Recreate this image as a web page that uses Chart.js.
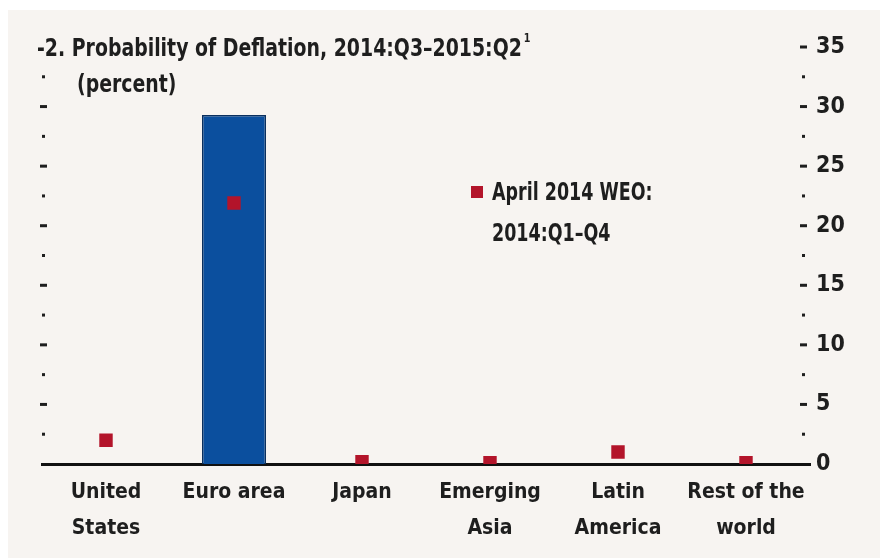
<!DOCTYPE html>
<html>
<head>
<meta charset="utf-8">
<script src="https://cdn.jsdelivr.net/npm/chart.js@4.4.1/dist/chart.umd.min.js"></script>
<style>
  html, body { margin: 0; padding: 0; background: #ffffff; }
  #wrap { position: absolute; left: 8px; top: 10px; width: 872px; height: 548px; background: #f7f4f1; }
  canvas { position: absolute; left: -8px; top: -10px; }
</style>
</head>
<body>
<div id="wrap"><canvas id="deflationChart" width="880" height="558"></canvas></div>
<script>
// Data block
const regionLabels = [['United', 'States'], 'Euro area', 'Japan', ['Emerging', 'Asia'], ['Latin', 'America'], ['Rest of the', 'world']];
const deflationProb = [0, 29.3, 0, 0, 0, 0];          // 2014:Q3-2015:Q2 (bars)
const aprilWeoProb = [2.0, 21.9, 0.2, 0.1, 1.0, 0.1];  // April 2014 WEO: 2014:Q1-Q4 (squares)

const FONT = '"Liberation Sans Narrow", "DejaVu Sans Condensed", "Roboto Condensed", sans-serif';
const INK = '#1e1e1e';
const RED = '#b3142a';

// Tick marks plugin: dash at every 5, dot at 2.5, both sides
const tickMarks = {
    id: 'tickMarks',
    afterDraw(chart) {
        const ctx = chart.ctx;
        const y = chart.scales.y;
        const area = chart.chartArea;
        ctx.save();
        ctx.fillStyle = INK;
        for (let v = 0; v <= 35; v += 2.5) {
            const py = y.getPixelForValue(v);
            const major = v % 5 === 0;
            if (v > 0 && v < 35) {
                // left side marks
                if (major) ctx.fillRect(40, py - 1.5, 7, 3);
                else ctx.fillRect(42, py - 1.5, 3, 3);
            }
            if (v > 0) {
                if (major) ctx.fillRect(area.right - 10, py - 1.5, 7, 3);
                else ctx.fillRect(area.right - 8, py - 1.5, 3, 3);
            }
        }
        ctx.restore();
    }
};

// squeezed text helper (mimics the condensed face of the original)
function squeezeText(ctx, text, x, y, sx) {
    ctx.save();
    ctx.translate(x, y);
    ctx.scale(sx, 1);
    ctx.fillText(text, 0, 0);
    const w = ctx.measureText(text).width * sx;
    ctx.restore();
    return w;
}

// Title + legend text plugin
const titleAndLegend = {
    id: 'titleAndLegend',
    afterDraw(chart) {
        const ctx = chart.ctx;
        ctx.save();
        ctx.fillStyle = INK;
        ctx.textBaseline = 'alphabetic';
        ctx.font = 'bold 25px ' + FONT;
        const w = squeezeText(ctx, '-2. Probability of Deflation, 2014:Q3\u20132015:Q2', 37, 56, 0.84);
        ctx.font = 'bold 13px ' + FONT;
        squeezeText(ctx, '1', 37 + w + 2, 42, 0.82);
        ctx.font = 'bold 25px ' + FONT;
        squeezeText(ctx, '(percent)', 77, 92, 0.84);
        // legend
        ctx.fillStyle = RED;
        ctx.fillRect(471, 186, 12, 12);
        ctx.fillStyle = INK;
        ctx.font = 'bold 24px ' + FONT;
        squeezeText(ctx, 'April 2014 WEO:', 492, 200, 0.81);
        squeezeText(ctx, '2014:Q1\u2013Q4', 492, 241, 0.81);
        ctx.restore();
    }
};

// Config block
const deflationConfig = {
    type: 'bar',
    data: {
        labels: regionLabels,
        datasets: [{
            label: '2014:Q3-2015:Q2',
            data: deflationProb,
            backgroundColor: '#0b4f9e',
            borderColor: '#0a2f5e',
            borderWidth: 1.5,
            barPercentage: 0.5,
            categoryPercentage: 1,
            order: 2
        }, {
            type: 'line',
            label: 'April 2014 WEO: 2014:Q1-Q4',
            data: aprilWeoProb,
            showLine: false,
            pointStyle: 'rect',
            pointRadius: 9.5,
            backgroundColor: RED,
            borderColor: RED,
            borderWidth: 0,
            order: 1
        }]
    },
    options: {
        responsive: false,
        animation: false,
        layout: { padding: { left: 42, right: 0, top: 47, bottom: 0 } },
        plugins: {
            legend: { display: false },
            tooltip: { enabled: false }
        },
        scales: {
            x: {
                grid: { display: false, drawTicks: false },
                border: { color: '#111', width: 3 },
                afterFit(scale) { scale.height = 94; },
                ticks: {
                    color: INK,
                    font: { family: FONT, size: 21, weight: 'bold', lineHeight: 1.72 },
                    padding: 10,
                    maxRotation: 0,
                    autoSkip: false
                }
            },
            y: {
                position: 'right',
                min: 0,
                max: 35,
                grid: { display: false, drawTicks: false },
                border: { display: false },
                afterFit(scale) { scale.width = 70; },
                ticks: {
                    stepSize: 5,
                    padding: 6,
                    color: INK,
                    font: { family: FONT, size: 23, weight: 'bold' }
                }
            }
        }
    },
    plugins: [tickMarks, titleAndLegend]
};

// render / init block
const deflationChart = new Chart(
    document.getElementById('deflationChart'),
    deflationConfig
);
</script>
</body>
</html>
